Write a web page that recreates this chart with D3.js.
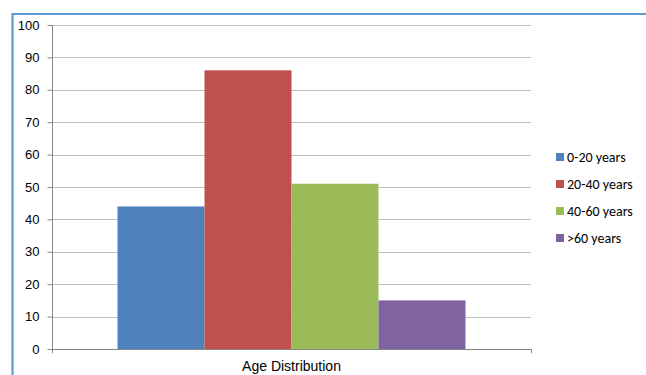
<!DOCTYPE html>
<html>
<head>
<meta charset="utf-8">
<script src="https://cdn.jsdelivr.net/npm/d3@7"></script>
<style>
  body { margin: 0; background: #fff; }
  svg { display: block; font-family: Calibri, "Liberation Sans", Arial, sans-serif; }
</style>
</head>
<body>
<svg id="chart" width="646" height="375"></svg>
<script>
const category = "Age Distribution";
const groups = ["0-20 years", "20-40 years", "40-60 years", ">60 years"];
const values = [44, 86, 51, 15];
const colors = ["#4F81BD", "#C0504D", "#9BBB59", "#8064A2"];
const yTicks = [0, 10, 20, 30, 40, 50, 60, 70, 80, 90, 100];

const svg = d3.select("#chart");

// plot area, matched to the picture
const plotLeft = 52, plotRight = 531, plotTop = 25, plotBottom = 349;

// frame of the selected chart object (blue border)
svg.append("path")
    .attr("d", "M12.5,375 L12.5,14 L646,14")
    .attr("fill", "none")
    .attr("stroke", "#5B9BD5")
    .attr("stroke-width", 2.2);

let y = d3.scaleLinear().domain([0, 100]).range([plotBottom, plotTop]);
let x = d3.scaleBand().domain([category]).range([plotLeft, plotRight]).paddingInner(0).paddingOuter(0);
let xs = d3.scaleBand().domain(groups).range([0, x.bandwidth()]).paddingOuter(0.753).paddingInner(0);

// gridlines
svg.append("g")
    .selectAll("line")
    .data(yTicks.filter(d => d > 0))
    .enter()
    .append("line")
    .attr("x1", plotLeft)
    .attr("x2", plotRight)
    .attr("y1", d => Math.round(y(d)) + 0.5)
    .attr("y2", d => Math.round(y(d)) + 0.5)
    .attr("stroke", "#bfbfbf")
    .attr("stroke-width", 1);

// bars
let data = groups.map((g, i) => ({ group: g, value: values[i], color: colors[i] }));
svg.append("g")
    .selectAll("rect")
    .data(data)
    .enter()
    .append("rect")
    .attr("x", d => x(category) + xs(d.group))
    .attr("y", d => y(d.value))
    .attr("width", xs.bandwidth())
    .attr("height", d => y(0) - y(d.value))
    .attr("fill", d => d.color);

// y axis
let yAxis = svg.append("g")
    .attr("transform", "translate(" + (plotLeft + 0.5) + ",0)")
    .call(d3.axisLeft(y).tickValues(yTicks).tickSize(5).tickPadding(8).tickSizeOuter(0));
yAxis.select(".domain").attr("stroke", "#868686").attr("d", "M0," + plotTop + "V" + (plotBottom + 4));
yAxis.selectAll(".tick line").attr("stroke", "#868686");
yAxis.selectAll(".tick text").attr("fill", "#000").style("font-size", "13px");

// x axis
let xAxis = svg.append("g")
    .attr("transform", "translate(0," + (plotBottom + 0.5) + ")")
    .call(d3.axisBottom(x).tickSize(0).tickPadding(12).tickSizeOuter(0));
xAxis.select(".domain").attr("stroke", "#868686").attr("d", "M" + plotLeft + ",0H" + plotRight);
xAxis.selectAll(".tick text").attr("fill", "#000").style("font-size", "14px");
svg.append("line")
    .attr("x1", plotRight + 0.5).attr("x2", plotRight + 0.5)
    .attr("y1", plotBottom).attr("y2", plotBottom + 4)
    .attr("stroke", "#868686");

// legend
let legend = svg.append("g")
    .selectAll("g")
    .data(data)
    .enter()
    .append("g")
    .attr("transform", (d, i) => "translate(556," + (157 + i * 27) + ")");

legend.append("rect")
    .attr("x", 0)
    .attr("y", -4)
    .attr("width", 8)
    .attr("height", 8)
    .attr("fill", d => d.color);

legend.append("text")
    .attr("x", 11)
    .attr("y", 0)
    .attr("dy", "0.35em")
    .style("font-size", "14px")
    .text(d => d.group);
</script>
</body>
</html>
